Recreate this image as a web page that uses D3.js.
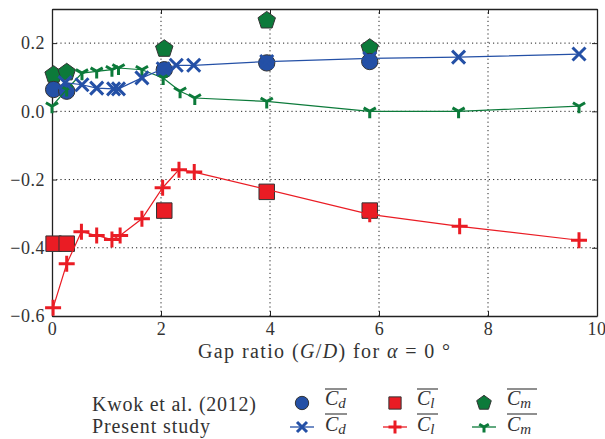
<!DOCTYPE html>
<html>
<head>
<meta charset="utf-8">
<script src="https://cdn.jsdelivr.net/npm/d3@7"></script>
<style>
  body { margin: 0; background: #fff; }
  text { font-family: "Liberation Serif", "DejaVu Serif", serif; fill: #333; }
</style>
</head>
<body>
<div id="chart"></div>
<script>
// Kwok et al. (2012) - puntos sueltos
const kwokX  = [0.03, 0.27, 2.06, 3.94, 5.83];
const kwokCd = [0.064, 0.059, 0.122, 0.142, 0.146];
const kwokClX = [0.03, 0.27, 2.06, 3.94, 5.83];
const kwokCl = [-0.388, -0.388, -0.291, -0.236, -0.291];
const kwokCm = [0.107, 0.114, 0.183, 0.266, 0.186];

// Present study
const cdX = [0.24, 0.55, 0.82, 1.13, 1.22, 1.65, 2.04, 2.28, 2.60, 3.94, 5.83, 7.46, 9.67];
const cd  = [0.084, 0.078, 0.068, 0.066, 0.066, 0.098, 0.125, 0.135, 0.135, 0.146, 0.155, 0.159, 0.168];
const clX = [0.02, 0.27, 0.54, 0.82, 1.10, 1.25, 1.65, 2.03, 2.33, 2.61, 5.83, 7.48, 9.67];
const cl  = [-0.576, -0.447, -0.353, -0.364, -0.376, -0.364, -0.315, -0.224, -0.171, -0.178, -0.302, -0.337, -0.378];
const cmX = [0.0, 0.27, 0.55, 0.82, 1.10, 1.22, 1.65, 2.04, 2.35, 2.62, 3.94, 5.83, 7.46, 9.67];
const cm  = [0.015, 0.064, 0.112, 0.117, 0.122, 0.127, 0.122, 0.098, 0.059, 0.039, 0.029, 0.0, 0.0, 0.015];

const xTicks = [0, 2, 4, 6, 8, 10];
const yTicks = [-0.6, -0.4, -0.2, 0.0, 0.2];

const azul = "#2450a6", rojo = "#ea1c24", verde = "#0c7a3a";

const width = 605, height = 439;
const margin = {left: 52, right: 8, top: 9, bottom: 123};

const svg = d3.select("#chart").append("svg")
    .attr("width", width)
    .attr("height", height);

const x = d3.scaleLinear().domain([0, 10]).range([margin.left, width - margin.right]);
const y = d3.scaleLinear().domain([-0.6, 0.3]).range([height - margin.bottom, margin.top]);

// rejilla punteada
const grid = svg.append("g");
grid.selectAll(".gx").data(xTicks.slice(1, -1)).join("line")
  .attr("x1", d => x(d)).attr("x2", d => x(d))
  .attr("y1", y.range()[0]).attr("y2", y.range()[1])
  .attr("stroke", "#222").attr("stroke-width", 1).attr("stroke-dasharray", "1.2,3");
grid.selectAll(".gy").data(yTicks.slice(1)).join("line")
  .attr("x1", x.range()[0]).attr("x2", x.range()[1])
  .attr("y1", d => y(d)).attr("y2", d => y(d))
  .attr("stroke", "#222").attr("stroke-width", 1).attr("stroke-dasharray", "1.2,3");

// ejes con ticks hacia dentro
const fmt = d => (d < 0 ? "\u2212" : "") + Math.abs(d).toFixed(1);
const axB = svg.append("g").attr("transform", `translate(0,${y.range()[0]})`)
  .call(d3.axisBottom(x).tickValues(xTicks).tickSizeInner(-5).tickSizeOuter(0).tickPadding(6).tickFormat(d => String(d)));
const axL = svg.append("g").attr("transform", `translate(${x.range()[0]},0)`)
  .call(d3.axisLeft(y).tickValues(yTicks).tickSizeInner(-5).tickSizeOuter(0).tickPadding(7).tickFormat(fmt));
const axT = svg.append("g").attr("transform", `translate(0,${y.range()[1]})`)
  .call(d3.axisTop(x).tickValues(xTicks).tickSizeInner(-5).tickSizeOuter(0).tickFormat(""));
const axR = svg.append("g").attr("transform", `translate(${x.range()[1]},0)`)
  .call(d3.axisRight(y).tickValues(yTicks).tickSizeInner(-5).tickSizeOuter(0).tickFormat(""));
[axB, axL, axT, axR].forEach(a => {
  a.select(".domain").attr("stroke", "#222").attr("stroke-width", 1.3);
  a.selectAll(".tick line").attr("stroke", "#222");
  a.selectAll("text").style("font-family", "'Liberation Serif', serif").style("font-size", "18px")
    .style("letter-spacing", "0.5px").attr("fill", "#333");
});
// el "10" queda pegado al borde derecho
axB.selectAll(".tick text").filter(d => d === 10).attr("text-anchor", "end").attr("x", 9);

// simbolos
function cruzX(s) { return `M${-s},${-s}L${s},${s}M${-s},${s}L${s},${-s}`; }
function cruzMas(s) { return `M${-s},0L${s},0M0,${-s}L0,${s}`; }
function triAbajo(s) { return `M0,0L0,${s}M0,0L${-s*0.87},${-s*0.5}M0,0L${s*0.87},${-s*0.5}`; }

const lineGen = d3.line().x(d => x(d[0])).y(d => y(d[1]));
const plot = svg.append("g");

function serie(xs, ys, color, pathFn, size) {
  const pts = xs.map((v, i) => [v, ys[i]]);
  plot.append("path").attr("d", lineGen(pts)).attr("fill", "none")
    .attr("stroke", color).attr("stroke-width", 1.2);
  plot.selectAll(null).data(pts).join("path")
    .attr("transform", d => `translate(${x(d[0])},${y(d[1])})`)
    .attr("d", pathFn(size)).attr("fill", "none")
    .attr("stroke", color).attr("stroke-width", 3);
}

function puntos(xs, ys, color, tipo, size) {
  const pts = xs.map((v, i) => [v, ys[i]]);
  plot.selectAll(null).data(pts).join("path")
    .attr("transform", d => `translate(${x(d[0])},${y(d[1])})`)
    .attr("d", d3.symbol().type(tipo).size(size))
    .attr("fill", color).attr("stroke", "#333").attr("stroke-width", 1);
}

const pentagono = {
  draw(ctx, size) {
    const r = Math.sqrt(size / 2.38);
    for (let i = 0; i < 5; i++) {
      const a = -Math.PI / 2 + i * 2 * Math.PI / 5;
      if (i === 0) ctx.moveTo(r * Math.cos(a), r * Math.sin(a));
      else ctx.lineTo(r * Math.cos(a), r * Math.sin(a));
    }
    ctx.closePath();
  }
};

puntos(kwokX, kwokCm, verde, pentagono, 200);
puntos(kwokX, kwokCd, azul, d3.symbolCircle, 210);
puntos(kwokClX, kwokCl, rojo, d3.symbolSquare, 240);
serie(cmX, cm, verde, triAbajo, 7);
serie(cdX, cd, azul, cruzX, 6.5);
serie(clX, cl, rojo, cruzMas, 8);

// etiqueta del eje x
svg.append("text")
  .attr("x", 198).attr("y", 358)
  .attr("textLength", 252).attr("lengthAdjust", "spacing")
  .style("font-size", "20px")
  .html('Gap ratio (<tspan font-style="italic">G</tspan>/<tspan font-style="italic">D</tspan>) for <tspan font-style="italic">\u03b1</tspan> = 0 \u00b0');

// leyenda
const leg = svg.append("g");
const fila1 = 403, fila2 = 427;
leg.append("text").attr("x", 92).attr("y", 411).attr("textLength", 164).attr("lengthAdjust", "spacing")
  .style("font-size", "20px").text("Kwok et al. (2012)");
leg.append("text").attr("x", 92).attr("y", 432.5).attr("textLength", 118).attr("lengthAdjust", "spacing")
  .style("font-size", "20px").text("Present study");

const entradas = [
  {cx: 302, tx: 325, color: azul, simb: d3.symbolCircle, area: 140, marca: cruzX, ms: 5, sub: "d", w: 22},
  {cx: 395, tx: 417, color: rojo, simb: d3.symbolSquare, area: 150, marca: cruzMas, ms: 6.5, sub: "l", w: 21},
  {cx: 484, tx: 507, color: verde, simb: pentagono, area: 140, marca: triAbajo, ms: 5.5, sub: "m", w: 30}
];
entradas.forEach(e => {
  leg.append("path").attr("transform", `translate(${e.cx},${fila1})`)
    .attr("d", d3.symbol().type(e.simb).size(e.area))
    .attr("fill", e.color).attr("stroke", "#333").attr("stroke-width", 1);
  leg.append("line").attr("x1", e.cx - 12).attr("x2", e.cx + 12)
    .attr("y1", fila2).attr("y2", fila2).attr("stroke", e.color).attr("stroke-width", 1.3);
  leg.append("path").attr("transform", `translate(${e.cx},${fila2})`)
    .attr("d", e.marca(e.ms)).attr("fill", "none").attr("stroke", e.color).attr("stroke-width", 3);
  [[405, 389], [431, 414]].forEach(([base, over]) => {
    const t = leg.append("text").attr("x", e.tx).attr("y", base).style("font-size", "20px");
    t.append("tspan").attr("font-style", "italic").text("C");
    t.append("tspan").attr("font-style", "italic").attr("dy", 3).style("font-size", "15px").text(e.sub);
    leg.append("line").attr("x1", e.tx).attr("x2", e.tx + e.w)
      .attr("y1", over).attr("y2", over).attr("stroke", "#333").attr("stroke-width", 1.1);
  });
});
</script>
</body>
</html>
